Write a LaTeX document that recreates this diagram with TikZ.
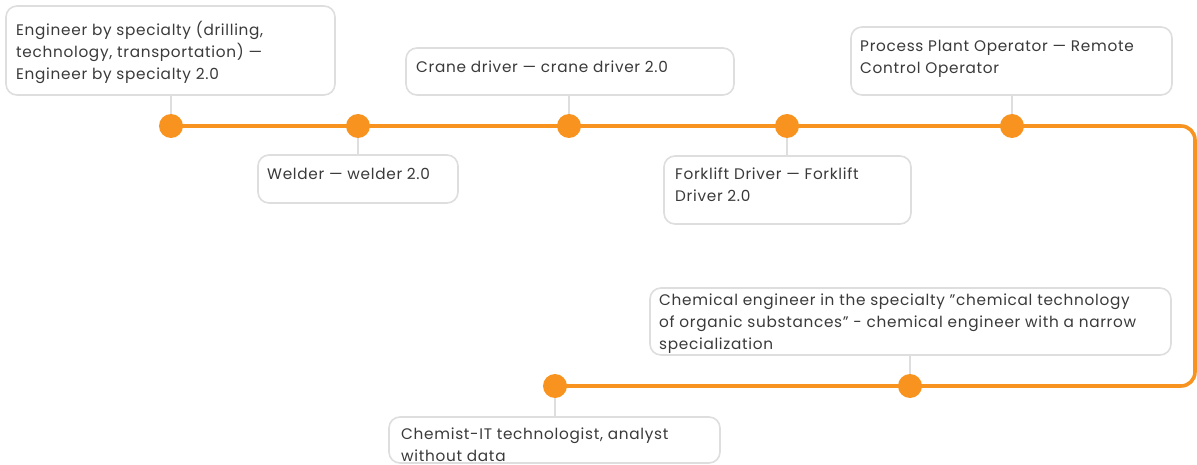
\documentclass[tikz,border=0pt]{standalone}
\usepackage{fontspec}
\setmainfont{Poppins}[LetterSpace=4.5]
\definecolor{orng}{HTML}{F7931E}
\definecolor{bordr}{HTML}{DEDEDE}
\definecolor{txtc}{HTML}{3A3A3A}
\begin{document}
\begin{tikzpicture}[x=1pt,y=-1pt,
  box/.style={draw=bordr, line width=1.6pt, rounded corners=11pt, fill=white},
  txt/.style={anchor=west, inner sep=0pt, align=left, text=txtc, font={\fontsize{15.3}{22}\selectfont}},
  dot/.style={circle, fill=orng, inner sep=0pt, minimum size=24pt},
  tline/.style={draw=orng, line width=3.6pt},
  conn/.style={draw=bordr, line width=1.4pt}]
\useasboundingbox (0,0) rectangle (1197,465);
% timeline
\coordinate (tstart) at (171,126);
\draw[tline, rounded corners=14pt] (tstart) -- (1195,126) -- (1195,386) -- (555,386) coordinate (tend);
% dots
\node[dot] (d1) at (171,126) {};
\node[dot] (d2) at (358,126) {};
\node[dot] (d3) at (569,126) {};
\node[dot] (d4) at (787,126) {};
\node[dot] (d5) at (1012,126) {};
\node[dot] (d6) at (910,386) {};
\node[dot] (d7) at (555,386) {};
% boxes
\draw[box] (6,6) rectangle (335,95);
\coordinate (b1) at (171,95);
\draw[box] (258,155) rectangle (458,203);
\coordinate (b2) at (358,155);
\draw[box] (406,48) rectangle (734,95);
\coordinate (b3) at (569,95);
\draw[box] (664,156) rectangle (911,224);
\coordinate (b4) at (787,156);
\draw[box] (851,27) rectangle (1172,95);
\coordinate (b5) at (1012,95);
\draw[box] (650,288) rectangle (1171,355);
\coordinate (b6) at (910,355);
\draw[box] (389,417) rectangle (720,463);
\coordinate (b7) at (555,417);
% connectors
\draw[conn] (b1) -- (d1);
\draw[conn] (b2) -- (d2);
\draw[conn] (b3) -- (d3);
\draw[conn] (b4) -- (d4);
\draw[conn] (b5) -- (d5);
\draw[conn] (b6) -- (d6);
\draw[conn] (b7) -- (d7);
% texts
\node[txt] (t1) at (16,52) {Engineer by specialty (drilling,\\technology, transportation) —\\Engineer by specialty 2.0};
\node[txt] (t2) at (267,174) {Welder — welder 2.0};
\node[txt] (t3) at (416,67) {Crane driver — crane driver 2.0};
\node[txt] (t4) at (675,185) {Forklift Driver — Forklift\\Driver 2.0};
\node[txt] (t5) at (860,59) {Process Plant Operator — Remote\\Control Operator};
\node[txt] (t6) at (659,324) {Chemical engineer in the specialty "chemical technology\\of organic substances" - chemical engineer with a narrow\\specialization};
\node[txt] (t7) at (401,444.5) {Chemist-IT technologist, analyst\\without data};
\end{tikzpicture}
\end{document}
